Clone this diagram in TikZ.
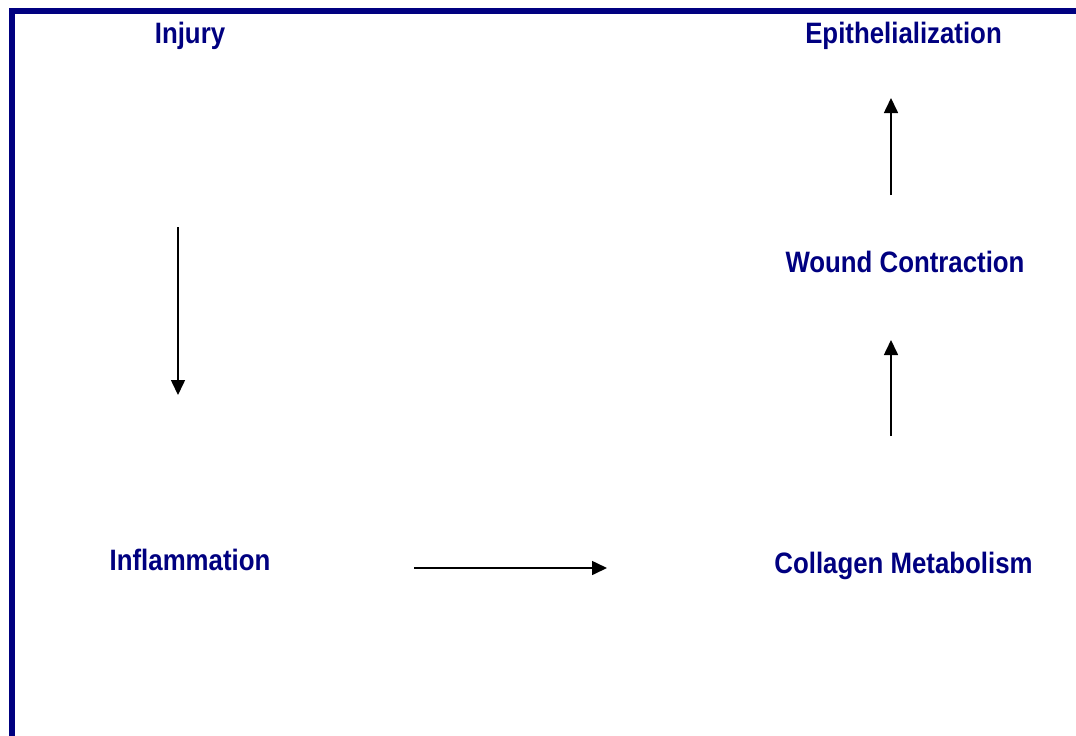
\documentclass[tikz,border=0pt]{standalone}
\usepackage{fontspec}
\setmainfont{Liberation Sans}[FakeStretch=0.875]
\usetikzlibrary{arrows.meta}
\definecolor{navy}{HTML}{000080}
\tikzset{
    stage/.style={text=navy, font=\fontsize{29.5}{32}\selectfont\bfseries, anchor=base, inner sep=0pt},
    flow/.style={-{Triangle[length=15pt,width=14pt]}, line width=1.6pt, black}
}
\begin{document}
\begin{tikzpicture}[x=1pt,y=-1pt]
            \useasboundingbox (0,0) rectangle (1076,736);
            % Marco
            \draw[navy, line width=6pt] (12,736) -- (12,11) -- (1076,11);
            % Etapas
            \node[stage] (injury) at (190,43) {Injury};
            \node[stage] (inflam) at (190,570) {Inflammation};
            \node[stage] (collagen) at (903.5,573) {Collagen Metabolism};
            \node[stage] (contract) at (905,272) {Wound Contraction};
            \node[stage] (epith) at (903.5,43) {Epithelialization};
            % Flechas
            \coordinate (a1) at (178,227);
            \coordinate (b1) at (178,395);
            \coordinate (a2) at (414,568);
            \coordinate (b2) at (607,568);
            \coordinate (a3) at (891,436);
            \coordinate (b3) at (891,340);
            \coordinate (a4) at (891,195);
            \coordinate (b4) at (891,98);
            \draw[flow] (a1) -- (b1);
            \draw[flow] (a2) -- (b2);
            \draw[flow] (a3) -- (b3);
            \draw[flow] (a4) -- (b4);
        \end{tikzpicture}
\end{document}
